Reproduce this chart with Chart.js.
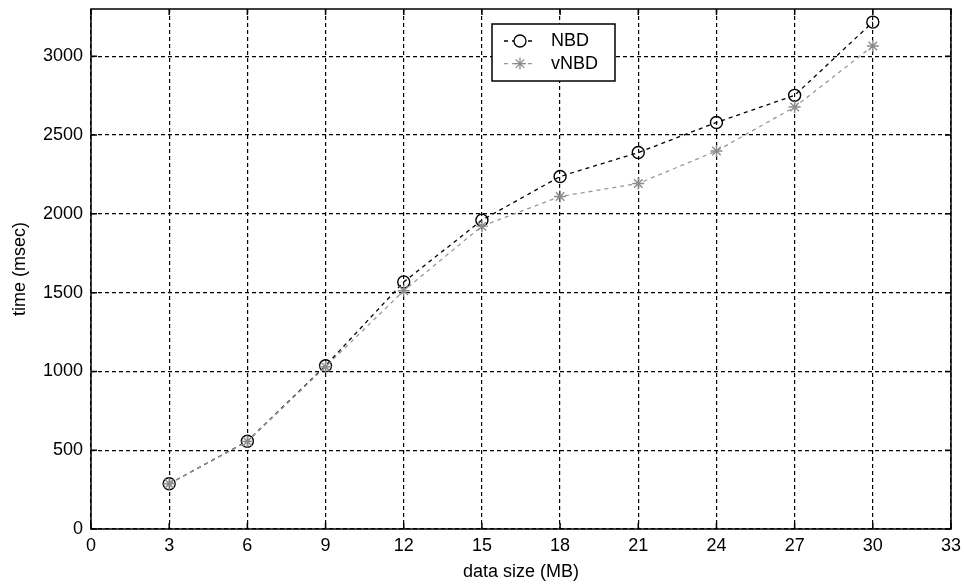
<!DOCTYPE html>
<html>
<head>
<meta charset="utf-8">
<script src="https://cdn.jsdelivr.net/npm/chart.js@4/dist/chart.umd.min.js"></script>
<style>
  html, body { margin: 0; padding: 0; background: #fff; }
  #wrap { width: 964px; height: 588px; }
</style>
</head>
<body>
<div id="wrap"><canvas id="c" width="964" height="588"></canvas></div>
<script>
// Data size (MB) on the x axis
const dataSizes = [3, 6, 9, 12, 15, 18, 21, 24, 27, 30];
// Measured times (msec)
const nbdTimes  = [287, 557, 1036, 1568, 1960, 2237, 2389, 2580, 2752, 3217];
const vnbdTimes = [287, 555, 1030, 1512, 1922, 2110, 2193, 2399, 2678, 3065];
const seriesNames = ['NBD', 'vNBD'];
const xTicks = [0, 3, 6, 9, 12, 15, 18, 21, 24, 27, 30, 33];
const yTicks = [0, 500, 1000, 1500, 2000, 2500, 3000];

const FONT = 'Arial, "Liberation Sans", sans-serif';
const FS = 18;

// Frame around the plot area with inward tick marks on all four sides
const framePlugin = {
  id: 'frame',
  afterDatasetsDraw(chart) {
    const { ctx, chartArea: a, scales } = chart;
    ctx.save();
    ctx.strokeStyle = '#000';
    ctx.lineWidth = 1.5;
    ctx.setLineDash([]);
    ctx.strokeRect(a.left, a.top, a.right - a.left, a.bottom - a.top);
    const len = 6;
    ctx.beginPath();
    xTicks.forEach(v => {
      const x = scales.x.getPixelForValue(v);
      ctx.moveTo(x, a.bottom); ctx.lineTo(x, a.bottom - len);
      ctx.moveTo(x, a.top); ctx.lineTo(x, a.top + len);
    });
    yTicks.forEach(v => {
      const y = scales.y.getPixelForValue(v);
      ctx.moveTo(a.left, y); ctx.lineTo(a.left + len, y);
      ctx.moveTo(a.right, y); ctx.lineTo(a.right - len, y);
    });
    ctx.stroke();
    ctx.restore();
  }
};

// Boxed legend: dashed line sample with the marker in the middle
const boxLegendPlugin = {
  id: 'boxLegend',
  afterDraw(chart) {
    const { ctx } = chart;
    const x0 = 492, y0 = 24, w = 123, h = 57, row = 22.6;
    ctx.save();
    ctx.fillStyle = '#fff';
    ctx.fillRect(x0, y0, w, h);
    ctx.strokeStyle = '#000';
    ctx.lineWidth = 1.5;
    ctx.setLineDash([]);
    ctx.strokeRect(x0, y0, w, h);
    chart.data.datasets.forEach((ds, i) => {
      const cy = y0 + 17 + i * row;
      ctx.strokeStyle = ds.borderColor;
      ctx.lineWidth = ds.borderWidth;
      ctx.setLineDash(ds.borderDash);
      ctx.beginPath();
      ctx.moveTo(x0 + 12, cy); ctx.lineTo(x0 + 44, cy);
      ctx.stroke();
      ctx.setLineDash([]);
      ctx.strokeStyle = ds.pointBorderColor;
      Chart.helpers.drawPoint(ctx, {
        pointStyle: ds.pointStyle,
        radius: ds.pointRadius,
        rotation: 0,
        borderWidth: ds.pointBorderWidth
      }, x0 + 28, cy);
      ctx.fillStyle = '#000';
      ctx.font = FS + 'px ' + FONT;
      ctx.textBaseline = 'middle';
      ctx.textAlign = 'left';
      ctx.fillText(ds.label, x0 + 59, cy);
    });
    ctx.restore();
  }
};

new Chart(document.getElementById('c'), {
  type: 'line',
  data: {
    datasets: [
      {
        label: seriesNames[0],
        data: dataSizes.map((x, i) => ({ x, y: nbdTimes[i] })),
        borderColor: '#000',
        borderWidth: 1.3,
        borderDash: [4, 4],
        pointStyle: 'circle',
        pointRadius: 6,
        pointBorderWidth: 1.4,
        pointBorderColor: '#000',
        pointBackgroundColor: 'rgba(0,0,0,0)',
        fill: false,
        tension: 0,
        order: 1
      },
      {
        label: seriesNames[1],
        data: dataSizes.map((x, i) => ({ x, y: vnbdTimes[i] })),
        borderColor: '#999',
        borderWidth: 1.3,
        borderDash: [4, 4],
        pointStyle: 'star',
        pointRadius: 6,
        pointBorderWidth: 1.4,
        pointBorderColor: '#8c8c8c',
        pointBackgroundColor: 'rgba(0,0,0,0)',
        fill: false,
        tension: 0,
        order: 0
      }
    ]
  },
  options: {
    responsive: false,
    animation: false,
    events: [],
    layout: { padding: { left: 0, top: 9, right: 13, bottom: 0 } },
    plugins: { legend: { display: false }, tooltip: { enabled: false } },
    scales: {
      x: {
        type: 'linear',
        min: 0, max: 33,
        afterBuildTicks: s => { s.ticks = xTicks.map(v => ({ value: v })); },
        afterFit: s => { s.height = 59; s.paddingLeft = 0; s.paddingRight = 0; },
        ticks: { color: '#000', font: { family: FONT, size: FS }, padding: 6, maxRotation: 0, autoSkip: false,
                 callback: v => String(v) },
        grid: { color: '#000', lineWidth: 1.2, drawTicks: false },
        border: { display: false, dash: [4, 3] },
        title: { display: true, text: 'data size (MB)', color: '#000', font: { family: FONT, size: FS }, padding: { top: 0, bottom: 5 } }
      },
      y: {
        type: 'linear',
        min: 0, max: 3300,
        afterBuildTicks: s => { s.ticks = yTicks.map(v => ({ value: v })); },
        afterFit: s => { s.width = 91; s.paddingTop = 0; s.paddingBottom = 0; },
        ticks: { color: '#000', font: { family: FONT, size: FS }, padding: 8, autoSkip: false,
                 callback: v => String(v) },
        grid: { color: '#000', lineWidth: 1.2, drawTicks: false },
        border: { display: false, dash: [4, 3] },
        title: { display: true, text: 'time (msec)', color: '#000', font: { family: FONT, size: FS }, padding: { top: 9, bottom: 0 } }
      }
    }
  },
  plugins: [framePlugin, boxLegendPlugin]
});
</script>
</body>
</html>
